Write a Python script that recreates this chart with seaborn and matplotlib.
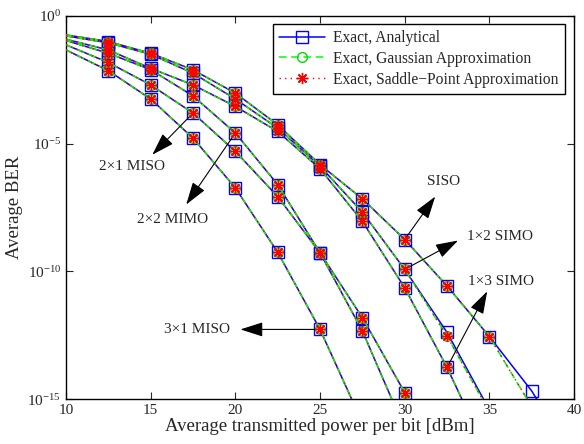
import numpy as np
import matplotlib
matplotlib.use("Agg")
import matplotlib.pyplot as plt
from matplotlib.lines import Line2D
from matplotlib.ticker import NullLocator
import seaborn as sns

# transmitted power grid [dBm]
power = [10, 12.5, 15, 17.5, 20, 22.5, 25, 27.5, 30, 32.5, 35, 37.5, 40]

# log10(BER); curves run until they leave the axis
siso_exact = [-0.74, -1.00, -1.46, -2.11, -3.02, -4.26, -5.82, -7.16, -8.75, -10.57, -12.55, -14.68, -17.4]
siso_approx = [-0.74, -1.00, -1.46, -2.11, -3.02, -4.26, -5.82, -7.16, -8.75, -10.57, -12.55, -15.3]
simo12_exact = [-0.78, -1.05, -1.50, -2.24, -3.25, -4.39, -5.88, -7.68, -9.92, -12.39, -15.42]
simo12_approx = [-0.78, -1.05, -1.50, -2.24, -3.25, -4.39, -5.88, -7.68, -9.92, -12.53, -15.5]
simo13 = [-0.91, -1.33, -2.05, -2.70, -3.54, -4.52, -5.98, -8.04, -10.64, -13.76, -17.3]
mimo22 = [-0.96, -1.46, -2.10, -3.13, -4.58, -6.60, -9.27, -12.33, -16.17]
miso21 = [-1.13, -1.82, -2.70, -3.80, -5.30, -7.07, -9.27, -11.81, -14.74, -17.8]
miso31 = [-1.33, -2.14, -3.25, -4.78, -6.73, -9.25, -12.27, -15.92]

curves = {
    "SISO": (siso_exact, siso_approx),
    "1x2 SIMO": (simo12_exact, simo12_approx),
    "1x3 SIMO": (simo13, simo13),
    "2x2 MIMO": (mimo22, mimo22),
    "2x1 MISO": (miso21, miso21),
    "3x1 MISO": (miso31, miso31),
}

legend_labels = ["Exact, Analytical", "Exact, Gaussian Approximation",
                 "Exact, Saddle\u2212Point Approximation"]

sns.set_style("ticks")
plt.rcParams["font.family"] = ["Liberation Serif", "DejaVu Serif"]
plt.rcParams["mathtext.fontset"] = "stix"
plt.rcParams["xtick.direction"] = "in"
plt.rcParams["ytick.direction"] = "in"
plt.rcParams["xtick.top"] = True
plt.rcParams["ytick.right"] = True

fig = plt.figure(figsize=(5.84, 4.44), dpi=100)
ax = fig.add_axes([0.113, 0.101, 0.870, 0.863])

blue = dict(color="#0000ff", lw=1.1, ls="-", marker="s", ms=8.5, mfc="none",
            mec="#0000ff", mew=1.0)
green = dict(color="#00ff00", lw=1.1, ls=(0, (5, 3)), marker="o", ms=7, mfc="none",
             mec="#00dd00", mew=1.0)
red = dict(color="#ff0000", lw=1.0, ls=(0, (1, 3)), marker=(8, 2, 0), ms=8,
           mfc="#ff0000", mec="#ff0000", mew=1.0)

for name, (exact, approx) in curves.items():
    xe = power[:len(exact)]
    xa = power[:len(approx)]
    sns.lineplot(x=xe, y=10.0 ** np.array(exact), ax=ax, markevery=slice(1, None),
                 legend=False, zorder=2, **blue)
    sns.lineplot(x=xa, y=10.0 ** np.array(approx), ax=ax, markevery=slice(1, None),
                 legend=False, zorder=3, **green)
    sns.lineplot(x=xa, y=10.0 ** np.array(approx), ax=ax, markevery=slice(1, None),
                 legend=False, zorder=4, **red)

ax.set_yscale("log")
ax.set_xlim(10, 40)
ax.set_ylim(1e-15, 1)
ax.set_xticks([10, 15, 20, 25, 30, 35, 40])
ax.set_yticks([1, 1e-5, 1e-10, 1e-15])
ax.yaxis.set_minor_locator(NullLocator())
ax.tick_params(labelsize=11, length=5, width=0.8)
for sp in ax.spines.values():
    sp.set_linewidth(1.0)
    sp.set_color("black")

ax.set_xlabel("Average transmitted power per bit [dBm]", fontsize=13.5, labelpad=1)
ax.set_ylabel("Average BER", fontsize=13.5, labelpad=3)

# annotations: label text, text position, arrow tail, arrow head (data coords)
arrow_kw = dict(arrowstyle="-|>,head_length=1.0,head_width=0.32", color="black",
                lw=0.8, shrinkA=0, shrinkB=0, mutation_scale=14)
notes = [
    ("2\u00d71 MISO", (13.9, -5.9), (17.5, -3.80), (15.1, -5.43), "center"),
    ("2\u00d72 MIMO", (16.3, -7.97), (20.0, -4.58), (17.1, -7.38), "center"),
    ("3\u00d71 MISO", (19.7, -12.27), (25.0, -12.27), (20.3, -12.27), "right"),
    ("SISO", (32.27, -6.48), (30.0, -8.75), (31.8, -7.07), "center"),
    ("1\u00d72 SIMO", (33.7, -8.63), (30.0, -9.92), (33.15, -8.79), "left"),
    ("1\u00d73 SIMO", (33.75, -10.39), (32.5, -13.76), (34.87, -10.78), "left"),
]
for label, (tx, ty), (ax0, ay0), (hx, hy), ha in notes:
    ax.annotate("", xy=(hx, 10.0 ** hy), xytext=(ax0, 10.0 ** ay0), arrowprops=arrow_kw)
    ax.text(tx, 10.0 ** ty, label, ha=ha, va="center", fontsize=11)

handles = [
    Line2D([], [], **blue),
    Line2D([], [], **green),
    Line2D([], [], **red),
]
leg = ax.legend(handles, legend_labels, loc="upper right", fontsize=11.2,
                frameon=True, fancybox=False, edgecolor="black", framealpha=1,
                handlelength=3.0, borderpad=0.4, labelspacing=0.3,
                handletextpad=0.5, borderaxespad=0,
                bbox_to_anchor=(0.982, 0.979))
leg.get_frame().set_linewidth(1.0)

fig.savefig("out.png", dpi=100)
